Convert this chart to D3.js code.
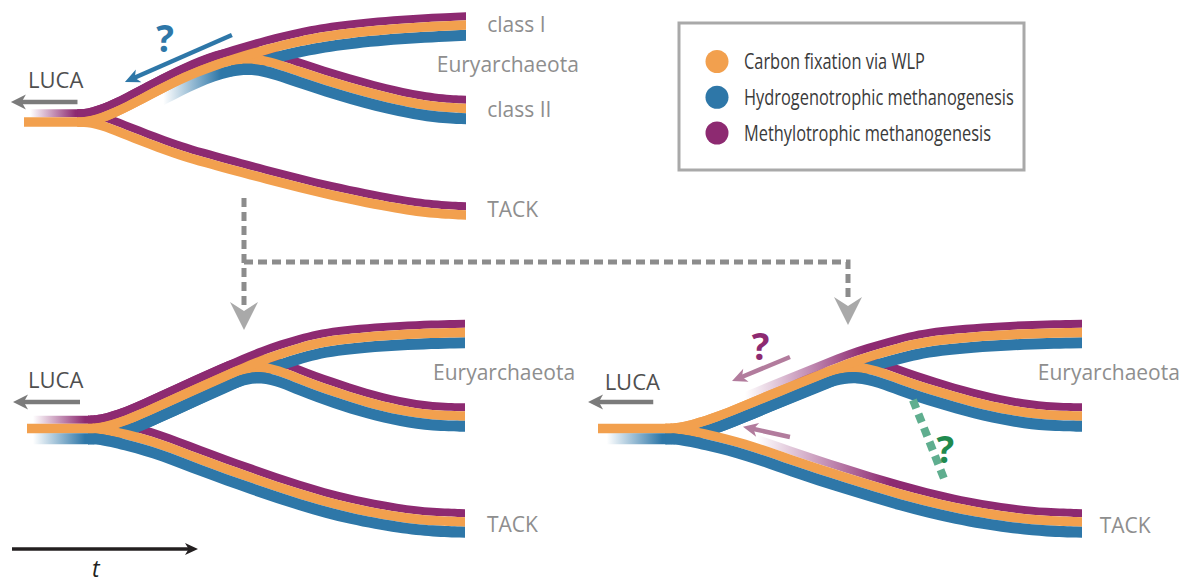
<!DOCTYPE html>
<html>
<head>
<meta charset="utf-8">
<script src="https://cdn.jsdelivr.net/npm/d3@7"></script>
<style>
  body { margin: 0; background: #fff; }
  svg { display: block; }
  .tip { font-family: "Open Sans", sans-serif; font-size: 21px; fill: #8e8e8e; }
  .luca { font-family: "Open Sans", sans-serif; font-size: 22px; fill: #4f4f4f; }
  .leg { font-family: "Open Sans", sans-serif; font-size: 21px; fill: #3a3a3a; }
  .q { font-family: "Open Sans", sans-serif; font-weight: 700; font-size: 37px; text-anchor: middle; }
</style>
</head>
<body>
<svg id="chart" width="1193" height="585"></svg>
<script>
// branch shapes: [time, divergence] of the orange band centre
// top scenario (drawn with an earlier split)
const trunkTop = [[27, 0], [81, 0]];
const euryITop  = [[80, 0], [92, 0], [115, -8], [140, -21], [170, -37], [200, -51], [233, -62.5], [267, -72.5], [300, -81], [340, -88], [400, -94], [465, -97]];
const euryIITop = [[80, 0], [92, 0], [115, -8], [140, -21], [170, -37], [200, -52], [233, -63], [262, -64], [300, -50], [350, -34], [400, -21], [435, -15], [465, -13.5]];
const tackTop   = [[80, 0], [92, 0], [112, 6], [133, 15], [167, 28], [200, 39], [267, 57], [333, 74], [400, 87], [433, 91.5], [465, 93]];
// two lower scenarios
const trunk  = [[27, 0], [89, 0]];
const euryI  = [[88, 0], [100, 0], [127, -8], [160, -23], [193, -38], [227, -53], [260, -68], [300, -81], [333, -89], [400, -94.5], [465, -96]];
const euryII = [[88, 0], [100, 0], [127, -8], [160, -23], [193, -38], [227, -54], [260, -66], [300, -49], [333, -37], [367, -26], [400, -18], [433, -13], [465, -12.5]];
const tack   = [[88, 0], [100, 0], [127, 6], [160, 15], [200, 31], [250, 49], [300, 66], [350, 80], [400, 89], [433, 92.5], [465, 93.5]];

const pathways = ['Carbon fixation via WLP', 'Hydrogenotrophic methanogenesis', 'Methylotrophic methanogenesis'];
const pathwayKeys = ['wlp', 'hydro', 'methyl'];
const topTips = ['class I', 'Euryarchaeota', 'class II', 'TACK'];
const lowTips = ['Euryarchaeota', 'TACK'];

const colour = {wlp: '#f2a04e', hydro: '#2e77a8', methyl: '#8d2a71'};
const edge = {methyl: [-12.75, -4.75], wlp: [-4.75, 4.75], hydro: [4.75, 15.75]};
// paint order so inner bands show up as wedges where branches split
const order = [['T','methyl'], ['E2','methyl'], ['E1','hydro'], ['E2','wlp'], ['E2','hydro'],
               ['T','wlp'], ['T','hydro'], ['E1','methyl'], ['E1','wlp']];

const panels = [
  { xr: [24, 466], root: 122,
    shape: {trunk: trunkTop, E1: euryITop, E2: euryIITop, T: tackTop},
    trunk: {methyl: [33, 78], wlp: null},
    bands: {T: {methyl: {}, wlp: {}},
            E1: {methyl: {}, wlp: {}, hydro: {clip: 232}},
            E2: {methyl: {}, wlp: {}, hydro: {fade: [165, 222]}}},
    luca: {text: [31, -34], arrow: [80, 14, -20]},
    tips: topTips, tipPos: [[486, -90], [436, -50], [486, -5], [486, 95]] },
  { xr: [27, 465], root: 428.5,
    shape: {trunk: trunk, E1: euryI, E2: euryII, T: tack},
    trunk: {methyl: [33, 85], wlp: null, hydro: [33, 85]},
    bands: {T: {methyl: {}, wlp: {}, hydro: {}},
            E1: {methyl: {}, wlp: {}, hydro: {}},
            E2: {methyl: {}, wlp: {}, hydro: {}}},
    luca: {text: [28, -40.5], arrow: [80, 13, -26.5]},
    tips: lowTips, tipPos: [[433, -48.5], [487, 103.5]] },
  { xr: [598, 1082], root: 428.5,
    shape: {trunk: trunk, E1: euryI, E2: euryII, T: tack},
    trunk: {wlp: null, hydro: [35, 85]},
    bands: {T: {methyl: {fade: [171, 291]}, wlp: {}, hydro: {}},
            E1: {methyl: {fade: [160, 268]}, wlp: {}, hydro: {}},
            E2: {methyl: {fade: [160, 268], clip: 265}, wlp: {}, hydro: {}}},
    luca: {text: [33, -38.5], arrow: [77, 18, -26.5]},
    tips: lowTips, tipPos: [[425, -48.5], [481, 104.5]] }
];

const svg = d3.select('#chart');
const defs = svg.append('defs');
let uid = 0;

function fadeFill(X, key, f) {
  const id = 'fade' + (uid++);
  const lg = defs.append('linearGradient').attr('id', id)
    .attr('gradientUnits', 'userSpaceOnUse')
    .attr('x1', X(f[0])).attr('x2', X(f[1])).attr('y1', 0).attr('y2', 0);
  lg.append('stop').attr('offset', 0).attr('stop-color', colour[key]).attr('stop-opacity', 0);
  lg.append('stop').attr('offset', 1).attr('stop-color', colour[key]).attr('stop-opacity', 1);
  return `url(#${id})`;
}

function arrow(g, x1, y1, x2, y2, color, w, len, half) {
  const a = Math.atan2(y2 - y1, x2 - x1), ux = Math.cos(a), uy = Math.sin(a);
  const bx = x2 - ux * len, by = y2 - uy * len;
  const nx = x2 - ux * len * 0.72, ny = y2 - uy * len * 0.72;
  g.append('line').attr('x1', x1).attr('y1', y1).attr('x2', nx + ux).attr('y2', ny + uy)
    .attr('stroke', color).attr('stroke-width', w);
  g.append('path')
    .attr('d', `M${x2},${y2}L${bx - uy * half},${by + ux * half}L${nx},${ny}L${bx + uy * half},${by - ux * half}Z`)
    .attr('fill', color);
}

function drawPanel(p) {
  const X = d3.scaleLinear().domain([27, 465]).range(p.xr);
  const Y = d3.scaleLinear().domain([-100, 100]).range([p.root - 100, p.root + 100]);
  const g = svg.append('g');
  // bands keep their width across the slope: widen each control point by 1/cos of the local angle
  const band = (key, curve, pts) => {
    const k = pts.map((d, i) => {
      const a = pts[Math.max(i - 1, 0)], b = pts[Math.min(i + 1, pts.length - 1)];
      const s = (Y(b[1]) - Y(a[1])) / (X(b[0]) - X(a[0]));
      return Math.sqrt(1 + s * s);
    });
    return d3.area().curve(curve)
      .x(d => X(d[0]))
      .y0((d, i) => Y(d[1] + edge[key][0] * k[i]))
      .y1((d, i) => Y(d[1] + edge[key][1] * k[i]))(pts);
  };

  Object.entries(p.trunk).forEach(([key, f]) => {
    g.append('path').attr('d', band(key, d3.curveLinear, p.shape.trunk))
      .attr('fill', f ? fadeFill(X, key, f) : colour[key]);
  });

  order.forEach(([lin, key]) => {
    const spec = p.bands[lin][key];
    if (!spec) return;
    const path = g.append('path').attr('d', band(key, d3.curveBasis, p.shape[lin]))
      .attr('fill', spec.fade ? fadeFill(X, key, spec.fade) : colour[key]);
    if (spec.clip) {
      const id = 'clip' + (uid++);
      defs.append('clipPath').attr('id', id).append('rect')
        .attr('x', X(spec.clip)).attr('y', p.root - 150).attr('width', 700).attr('height', 300);
      path.attr('clip-path', `url(#${id})`);
    }
  });

  g.append('text').attr('class', 'luca').attr('x', X(p.luca.text[0])).attr('y', Y(p.luca.text[1])).text('LUCA');
  const la = p.luca.arrow;
  arrow(g, X(la[0]), Y(la[2]), X(la[1]), Y(la[2]), '#7b7b7b', 4.5, 15, 7.5);

  p.tips.forEach((name, i) => {
    g.append('text').attr('class', 'tip')
      .attr('x', X(p.tipPos[i][0])).attr('y', Y(p.tipPos[i][1])).text(name);
  });
  return {g, X, Y};
}

const [pa, pb, pc] = panels.map(drawPanel);

// panel A: hydrogenotrophic origin question
arrow(pa.g, pa.X(233), pa.Y(-87), pa.X(127), pa.Y(-40), '#2e77a8', 4.5, 15, 7);
pa.g.append('text').attr('class', 'q').attr('fill', '#2e77a8').attr('x', pa.X(166.7)).attr('y', pa.Y(-70)).text('?');

// panel C: methylotrophic origin questions and transfer
arrow(pc.g, pc.X(200.7), pc.Y(-71.5), pc.X(148.3), pc.Y(-47.5), '#b27c9d', 4.5, 15, 7);
arrow(pc.g, pc.X(200.7), pc.Y(8.5), pc.X(158.2), pc.Y(-1.8), '#b27c9d', 4.5, 15, 7);
pc.g.append('text').attr('class', 'q').attr('fill', '#8d2a71').attr('x', pc.X(174.1)).attr('y', pc.Y(-68.5)).text('?');
pc.g.append('line')
  .attr('x1', pc.X(312)).attr('y1', pc.Y(-28.5)).attr('x2', pc.X(341)).attr('y2', pc.Y(52.5))
  .attr('stroke', '#5fae8f').attr('stroke-width', 8).attr('stroke-dasharray', '9,6');
pc.g.append('text').attr('class', 'q').attr('fill', '#1f8a4e').attr('x', pc.X(341.4)).attr('y', pc.Y(34.5)).text('?');

// dashed connectors between scenarios
const conn = svg.append('g').attr('fill', 'none').attr('stroke', '#8c8c8c')
  .attr('stroke-width', 5).attr('stroke-dasharray', '9,5');
conn.append('path').attr('d', 'M244,198V310');
conn.append('path').attr('d', 'M244,262H848V302');
[[244, 330], [848, 325]].forEach(([x, y]) => {
  svg.append('path').attr('fill', '#a9a9a9')
    .attr('d', `M${x},${y}L${x - 14},${y - 28}L${x},${y - 19}L${x + 14},${y - 28}Z`);
});

// time arrow
arrow(svg, 12, 549, 198, 549, '#231f20', 3.5, 13, 6);
svg.append('text').attr('x', 92).attr('y', 577)
  .style('font-family', '"Open Sans", sans-serif').style('font-style', 'italic')
  .style('font-size', '23px').attr('fill', '#231f20').text('t');

// legend
const leg = svg.append('g');
leg.append('rect').attr('x', 679).attr('y', 23).attr('width', 345).attr('height', 147)
  .attr('fill', '#fff').attr('stroke', '#a9a9a9').attr('stroke-width', 3);
const ly = d3.scalePoint().domain(pathways).range([61.5, 133]);
pathways.forEach((name, i) => {
  leg.append('circle').attr('cx', 717).attr('cy', ly(name)).attr('r', 11.5).attr('fill', colour[pathwayKeys[i]]);
  // condensed face is not installed, so squeeze the text horizontally
  leg.append('text').attr('class', 'leg')
    .attr('transform', `translate(744,${ly(name) + 7.5}) scale(0.78,1)`).text(name);
});
</script>
</body>
</html>
